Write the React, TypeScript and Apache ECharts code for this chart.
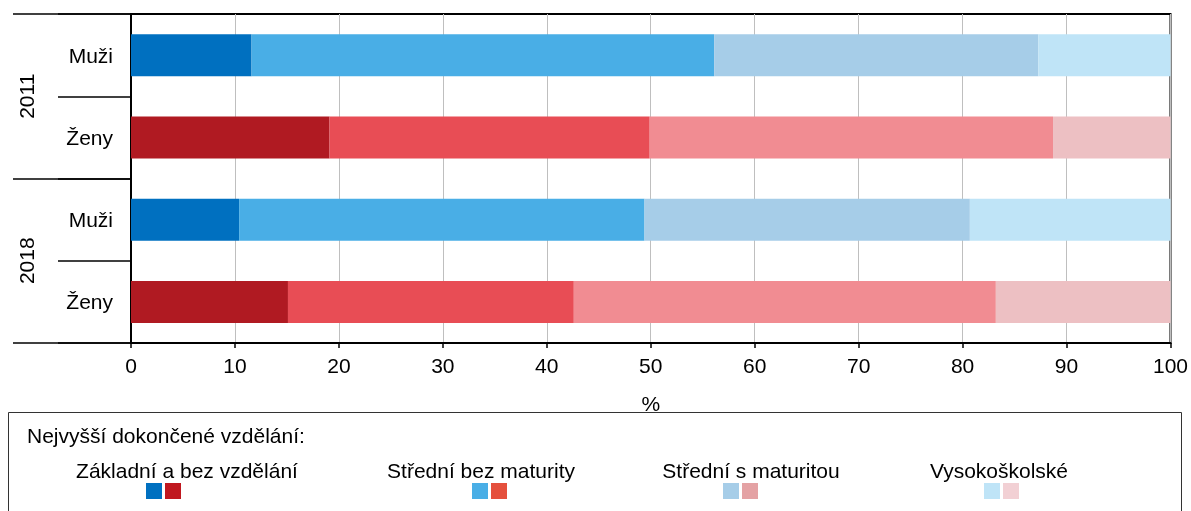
import React, { useEffect, useRef } from "react";
import * as echarts from "echarts";

const categories = ["Muži", "Ženy", "Muži", "Ženy"];
const rowGender = ["m", "f", "m", "f"];
const years = ["2011", "2018"];
const seriesNames = [
  "Základní a bez vzdělání",
  "Střední bez maturity",
  "Střední s maturitou",
  "Vysokoškolské",
];
const basicValues = [11.6, 19.1, 10.4, 15.1];
const noMaturaValues = [44.5, 30.8, 39.0, 27.5];
const maturaValues = [31.2, 38.8, 31.3, 40.6];
const universityValues = [12.7, 11.3, 19.3, 16.8];
const seriesValues = [basicValues, noMaturaValues, maturaValues, universityValues];

const maleColors = ["#0070c0", "#49aee6", "#a6cde8", "#bfe4f7"];
const femaleColors = ["#b01a22", "#e84d55", "#f18c92", "#edc0c3"];
const legendMaleColors = ["#0070c0", "#49aee6", "#a6cde8", "#bfe4f7"];
const legendFemaleColors = ["#c0181f", "#e5503d", "#e4a2a4", "#f2d0d4"];
const legendTitle = "Nejvyšší dokončené vzdělání:";
const xAxisName = "%";

const FONT = '"Liberation Sans", Arial, sans-serif';
const FS = 21;

export default function App() {
  const ref = useRef<HTMLDivElement>(null);
  useEffect(() => {
    if (!ref.current) return;
    const chart = echarts.init(ref.current, undefined, { renderer: "svg" });

    const series = seriesNames.map((name, si) => ({
      name,
      type: "bar",
      stack: "total",
      yAxisIndex: 0,
      barWidth: 42,
      data: seriesValues[si].map((v, ri) => ({
        value: v,
        itemStyle: {
          color: rowGender[ri] === "m" ? maleColors[si] : femaleColors[si],
        },
      })),
    }));

    const legendTextX = [187, 481, 751, 999];
    const legendSwatchX = [146, 472, 723, 984];
    const legendItems: any[] = [];
    seriesNames.forEach((name, i) => {
      legendItems.push({
        type: "text",
        x: legendTextX[i],
        y: 470,
        style: {
          text: name,
          fill: "#000",
          font: `${FS}px ${FONT}`,
          align: "center",
          verticalAlign: "middle",
        },
      });
      legendItems.push({
        type: "rect",
        shape: { x: legendSwatchX[i], y: 483, width: 16, height: 16 },
        style: { fill: legendMaleColors[i] },
      });
      legendItems.push({
        type: "rect",
        shape: { x: legendSwatchX[i] + 19, y: 483, width: 16, height: 16 },
        style: { fill: legendFemaleColors[i] },
      });
    });

    chart.setOption({
      animation: false,
      textStyle: { fontFamily: FONT },
      grid: {
        left: 131,
        right: 19,
        top: 14,
        bottom: 168,
        show: true,
        borderColor: "#000",
        borderWidth: 2,
        containLabel: false,
      },
      xAxis: {
        type: "value",
        min: 0,
        max: 100,
        interval: 10,
        name: xAxisName,
        nameLocation: "middle",
        nameGap: 50,
        nameTextStyle: { fontSize: FS, color: "#000", fontFamily: FONT },
        axisLine: { show: true, lineStyle: { color: "#000", width: 2 } },
        axisTick: { show: true, length: 5, lineStyle: { color: "#000", width: 1.5 } },
        axisLabel: { fontSize: FS, color: "#000", margin: 12, fontFamily: FONT },
        splitLine: { show: true, lineStyle: { color: "#bfbfbf", width: 1 } },
      },
      yAxis: [
        {
          type: "category",
          data: categories,
          inverse: true,
          position: "left",
          axisLine: { show: true, lineStyle: { color: "#000", width: 2 } },
          axisTick: { show: true, length: 73, lineStyle: { color: "#000", width: 1.5 } },
          axisLabel: { fontSize: FS, color: "#000", margin: 18, fontFamily: FONT },
          splitLine: { show: false },
        },
        {
          type: "category",
          data: years,
          inverse: true,
          position: "left",
          offset: 0,
          axisLine: { show: false },
          axisTick: { show: true, length: 118, lineStyle: { color: "#000", width: 1.5 } },
          axisLabel: { fontSize: FS, color: "#000", margin: 94, rotate: 90, fontFamily: FONT },
          splitLine: { show: false },
        },
      ],
      series,
      graphic: [
        {
          type: "rect",
          shape: { x: 8.5, y: 412.5, width: 1173, height: 130 },
          style: { fill: "none", stroke: "#333", lineWidth: 1 },
          z: 0,
        },
        {
          type: "text",
          x: 27,
          y: 435,
          style: {
            text: legendTitle,
            fill: "#000",
            font: `${FS}px ${FONT}`,
            align: "left",
            verticalAlign: "middle",
          },
        },
        ...legendItems,
      ],
    });
    return () => chart.dispose();
  }, []);
  return (
    <div
      ref={ref}
      style={{ position: "fixed", left: 0, top: 0, width: 1191, height: 511 }}
    />
  );
}
